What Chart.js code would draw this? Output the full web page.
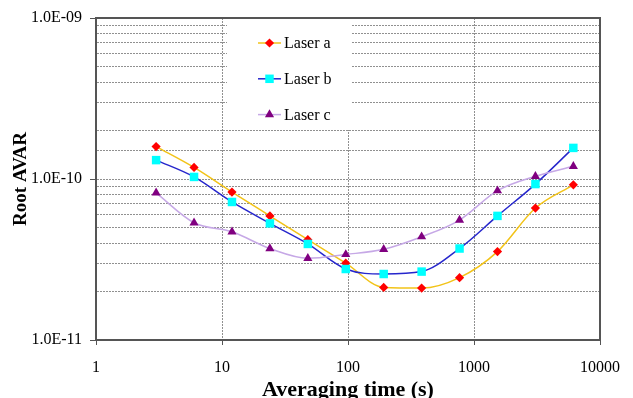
<!DOCTYPE html>
<html>
<head>
<meta charset="utf-8">
<script src="https://cdn.jsdelivr.net/npm/chart.js@4/dist/chart.umd.min.js"></script>
<style>
  html, body { margin: 0; padding: 0; background: #fff; }
  #wrap { width: 633px; height: 398px; }
</style>
</head>
<body>
<div id="wrap"><canvas id="chart"></canvas></div>
<script>
// Averaging times (s) and root Allan variance per laser
const taus   = [3, 6, 12, 24, 48, 96, 192, 384, 768, 1536, 3072, 6144];
const laserA = [1.59e-10, 1.18e-10, 8.3e-11, 5.9e-11, 4.2e-11, 3.0e-11, 2.12e-11, 2.10e-11, 2.44e-11, 3.54e-11, 6.6e-11, 9.2e-11];
const laserB = [1.31e-10, 1.03e-10, 7.2e-11, 5.3e-11, 3.95e-11, 2.76e-11, 2.57e-11, 2.66e-11, 3.7e-11, 5.9e-11, 9.3e-11, 1.56e-10];
const laserC = [8.2e-11, 5.35e-11, 4.7e-11, 3.7e-11, 3.22e-11, 3.4e-11, 3.66e-11, 4.38e-11, 5.56e-11, 8.46e-11, 1.04e-10, 1.2e-10];

const seriesNames = ['Laser a', 'Laser b', 'Laser c'];
const xTickLabels = ['1', '10', '100', '1000', '10000'];       // 10^0 .. 10^4
const yTickLabels = ['1.0E-11', '1.0E-10', '1.0E-09'];         // 10^-11 .. 10^-9

const SERIF = '"Liberation Serif", "Times New Roman", serif';
const GRID  = '#909090';
const FRAME = '#555';

// returns the decade exponent if v is a power of ten, otherwise null
function decade(v) {
  const e = Math.log10(v);
  return Math.abs(e - Math.round(e)) < 1e-6 ? Math.round(e) : null;
}

function makeSet(label, values, line, fill, style, radius, order) {
  return {
    label,
    data: taus.map((t, i) => ({ x: t, y: values[i] })),
    borderColor: line,
    borderWidth: 1.5,
    pointStyle: style,
    pointRadius: radius,
    pointBackgroundColor: fill,
    pointBorderColor: fill,
    pointBorderWidth: 0,
    cubicInterpolationMode: 'monotone',
    fill: false,
    order,
  };
}

// white legend panel sitting inside the plot, top left-centre
const legendBox = {
  id: 'legendBox',
  beforeDatasetsDraw(chart) {
    const { ctx, chartArea: a } = chart;
    const x0 = a.left + 131;
    ctx.save();
    ctx.fillStyle = '#fff';
    ctx.fillRect(x0, a.top + 1, 125, 111);
    chart.data.datasets.forEach((ds, i) => {
      const y = a.top + 25 + i * 35.8;
      ctx.strokeStyle = ds.borderColor;
      ctx.lineWidth = 1.5;
      ctx.beginPath();
      ctx.moveTo(x0 + 31, y);
      ctx.lineTo(x0 + 54, y);
      ctx.stroke();
      ctx.fillStyle = ds.pointBackgroundColor;
      Chart.helpers.drawPoint(ctx, { pointStyle: ds.pointStyle, radius: ds.pointRadius, borderWidth: 0, rotation: 0 }, x0 + 42.5, y);
      ctx.fillStyle = '#000';
      ctx.font = '16px ' + SERIF;
      ctx.textBaseline = 'middle';
      ctx.textAlign = 'left';
      ctx.fillText(ds.label, x0 + 57, y + 1);
    });
    ctx.restore();
  }
};

// dark frame round the plot area
const frame = {
  id: 'frame',
  beforeDatasetsDraw(chart) {
    const { ctx, chartArea: a } = chart;
    ctx.save();
    ctx.strokeStyle = FRAME;
    ctx.lineWidth = 2;
    ctx.strokeRect(a.left, a.top, a.right - a.left, a.bottom - a.top);
    ctx.restore();
  }
};

new Chart(document.getElementById('chart').getContext('2d'), {
  type: 'line',
  data: {
    datasets: [
      makeSet(seriesNames[0], laserA, '#f2c318', '#ff0000', 'rectRot', 4.6, 3),
      makeSet(seriesNames[1], laserB, '#2626cc', '#00ffff', 'rect', 6, 2),
      makeSet(seriesNames[2], laserC, '#c6a8e6', '#800080', 'triangle', 5.3, 1),
    ],
  },
  options: {
    responsive: true,
    maintainAspectRatio: false,
    animation: false,
    layout: { padding: { top: 18, right: 23, left: 0, bottom: 0 } },
    plugins: { legend: { display: false }, tooltip: { enabled: false } },
    scales: {
      x: {
        type: 'logarithmic',
        position: 'bottom',
        min: 1,
        max: 10000,
        afterFit(s) { s.height = 58; },
        ticks: {
          autoSkip: false,
          maxRotation: 0,
          padding: 13,
          color: '#000',
          font: { family: SERIF, size: 16 },
          callback(v) { const d = decade(v); return d === null ? '' : xTickLabels[d]; },
        },
        grid: {
          color: c => decade(c.tick.value) !== null ? GRID : 'transparent',
          tickColor: c => decade(c.tick.value) !== null ? FRAME : 'transparent',
          tickLength: 5,
          lineWidth: 1,
        },
        border: { color: FRAME, width: 2, dash: [2, 1] },
        title: {
          display: true,
          text: 'Averaging time (s)',
          color: '#000',
          font: { family: SERIF, size: 22, weight: 'bold' },
          padding: { top: 0, bottom: -6 },
        },
      },
      y: {
        type: 'logarithmic',
        min: 1e-11,
        max: 1e-9,
        afterFit(s) { s.width = 96; },
        ticks: {
          autoSkip: false,
          padding: 8,
          color: '#000',
          font: { family: SERIF, size: 16 },
          callback(v) { const d = decade(v); return d === null ? '' : yTickLabels[d + 11]; },
        },
        grid: {
          color: GRID,
          tickColor: c => decade(c.tick.value) !== null ? FRAME : 'transparent',
          tickLength: 6,
          lineWidth: 1,
        },
        border: { color: FRAME, width: 2, dash: [2, 1] },
        title: {
          display: true,
          text: 'Root AVAR',
          color: '#000',
          font: { family: SERIF, size: 19, weight: 'bold' },
          padding: { top: 10, bottom: 0 },
        },
      },
    },
  },
  plugins: [legendBox, frame],
});
</script>
</body>
</html>
